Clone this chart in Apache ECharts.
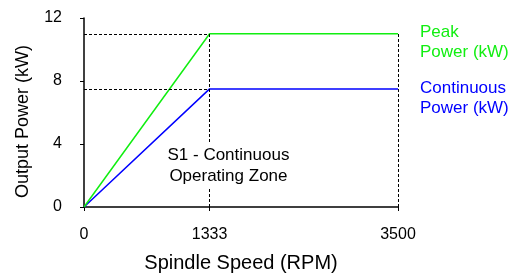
<!DOCTYPE html>
<html>
<head>
<meta charset="utf-8">
<script src="https://cdn.jsdelivr.net/npm/echarts@6/dist/echarts.min.js"></script>
<style>
  html, body { margin: 0; padding: 0; background: #fff; }
  #chart { width: 530px; height: 273px; }
</style>
</head>
<body>
<div id="chart"></div>
<script>
  // data
  const rpmTicks = [0, 1333, 3500]
  const peakKW = [0, 11, 11]
  const contKW = [0, 7.5, 7.5]
  const yTicks = [0, 4, 8, 12]
  const peakLabel = '11kW'
  const contLabel = '7.5kW'

  // the x axis is not to scale: 0-1333 takes 2 parts, 1333-3500 takes 3
  const segUnits = [2, 3]
  const tickPos = [0, segUnits[0], segUnits[0] + segUnits[1]]

  function rpmToPos(rpm) {
    for (let i = 1; i < rpmTicks.length; i++) {
      if (rpm <= rpmTicks[i]) {
        const t = (rpm - rpmTicks[i - 1]) / (rpmTicks[i] - rpmTicks[i - 1])
        return tickPos[i - 1] + t * (tickPos[i] - tickPos[i - 1])
      }
    }
    return tickPos[tickPos.length - 1]
  }

  const font = 'Liberation Sans, Arial, sans-serif'
  const green = '#11ee11'
  const blue = '#0000ff'
  const dash = { color: '#000', width: 1, type: [3, 2] }

  const chart = echarts.init(document.getElementById('chart'))
  const mkLine = (color, values, label, off, endText) => ({
    type: 'line',
    data: rpmTicks.map((r, i) => [rpmToPos(r), values[i]]),
    symbol: 'none',
    lineStyle: { color: color, width: 1.5 },
    itemStyle: { color: color },
    animation: false,
    label: {
      show: true,
      position: 'top',
      distance: 3,
      offset: off,
      color: '#000',
      fontFamily: font,
      fontSize: 16,
      formatter: p => (p.dataIndex === 1 ? label : '')
    },
    endLabel: {
      show: true,
      formatter: endText,
      color: color,
      fontFamily: font,
      fontSize: 17,
      lineHeight: 20,
      distance: 22,
      offset: [0, 9]
    }
  })

  const peak = mkLine(green, peakKW, peakLabel, [-7, 0], 'Peak\nPower (kW)')
  const cont = mkLine(blue, contKW, contLabel, [7, 0], 'Continuous\nPower (kW)')

  const knee = rpmToPos(rpmTicks[1])
  const end = rpmToPos(rpmTicks[2])
  const guides = {
    type: 'line',
    data: [],
    silent: true,
    animation: false,
    markLine: {
      symbol: 'none',
      silent: true,
      label: { show: false },
      lineStyle: dash,
      animation: false,
      data: [
        [{ coord: [0, peakKW[1]] }, { coord: [knee, peakKW[1]] }],
        [{ coord: [0, contKW[1]] }, { coord: [knee, contKW[1]] }],
        [{ coord: [knee, 0] }, { coord: [knee, peakKW[1]] }],
        [{ coord: [end, 0] }, { coord: [end, peakKW[1]] }]
      ]
    },
    markPoint: {
      symbol: 'rect',
      symbolSize: 1,
      itemStyle: { color: 'transparent' },
      silent: true,
      animation: false,
      data: [
        {
          coord: [2.3, 2.6],
          label: {
            show: true,
            formatter: 'S1 - Continuous\nOperating Zone',
            color: '#000',
            fontFamily: font,
            fontSize: 17,
            lineHeight: 21,
            backgroundColor: '#fff',
            padding: [2, 2]
          }
        }
      ]
    }
  }

  chart.setOption({
    animation: false,
    textStyle: { fontFamily: font },
    grid: { left: 84, right: 132, top: 18, bottom: 66, outerBoundsMode: 'none' },
    xAxis: {
      type: 'value',
      min: tickPos[0],
      max: tickPos[tickPos.length - 1],
      name: 'Spindle Speed (RPM)',
      nameLocation: 'middle',
      nameGap: 46,
      nameTextStyle: { color: '#000', fontSize: 20, fontFamily: font },
      axisLine: { lineStyle: { color: '#000', width: 1.5 } },
      axisTick: { show: true, customValues: tickPos, length: 4, lineStyle: { color: '#000' } },
      axisLabel: {
        customValues: tickPos,
        margin: 20,
        color: '#000',
        fontSize: 16,
        fontFamily: font,
        formatter: v => {
          const i = tickPos.indexOf(v)
          return i >= 0 ? String(rpmTicks[i]) : ''
        }
      },
      splitLine: { show: false }
    },
    yAxis: {
      type: 'value',
      min: yTicks[0],
      max: yTicks[yTicks.length - 1],
      interval: yTicks[1] - yTicks[0],
      name: 'Output Power (kW)',
      nameLocation: 'middle',
      nameGap: 52,
      nameTextStyle: { color: '#000', fontSize: 18, fontFamily: font, padding: [0, 18, 0, 0] },
      axisLine: { show: true, lineStyle: { color: '#000', width: 1.5 } },
      axisTick: { show: true, length: 4, lineStyle: { color: '#000' } },
      axisLabel: { margin: 22, color: '#000', fontSize: 16, fontFamily: font },
      splitLine: { show: false }
    },
    series: [guides, cont, peak]
  })
</script>
</body>
</html>
